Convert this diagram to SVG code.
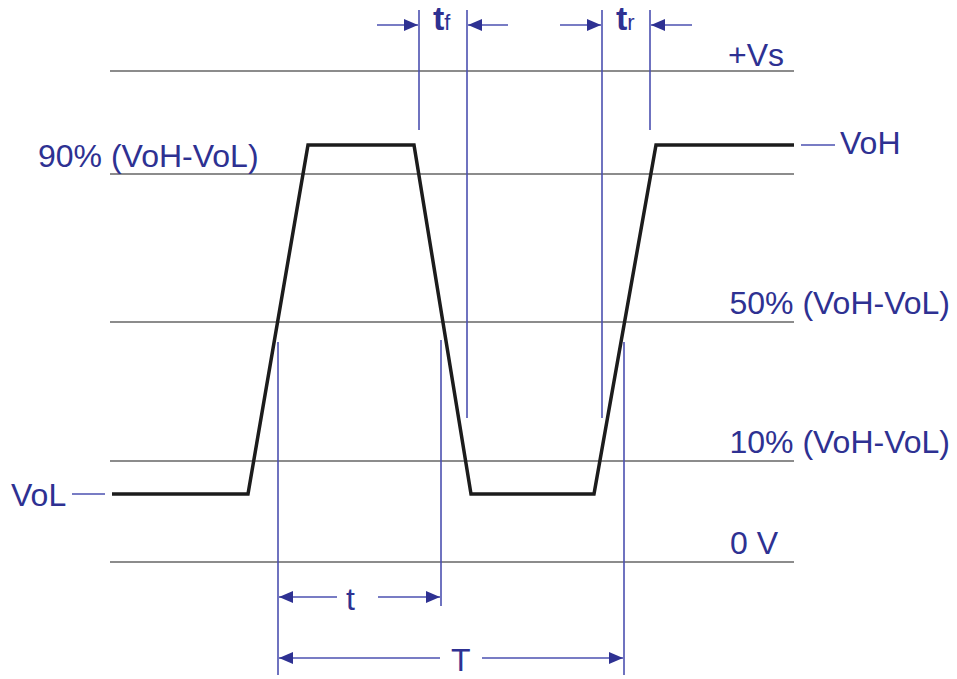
<svg xmlns="http://www.w3.org/2000/svg" width="957" height="679" viewBox="0 0 957 679">
<style>
.grid{stroke:#8c8c8c;stroke-width:2;fill:none}
.wave{stroke:#1c1c1c;stroke-width:3.5;fill:none;stroke-linejoin:miter}
.dim{stroke:#4b50b0;stroke-width:1.6;fill:none}
.lbl{font-family:"Liberation Sans",Arial,sans-serif;font-size:32px;fill:#2e3192}
.big{font-size:34px;font-weight:bold}
.sub{font-size:22px;font-weight:normal}
</style>
<defs>
<marker id="ah" viewBox="0 0 14 12" refX="14" refY="6" markerWidth="14" markerHeight="12" markerUnits="userSpaceOnUse" orient="auto">
<path d="M0,0 L14,6 L0,12 Z" fill="#2e3192"/>
</marker>
</defs>
<rect width="957" height="679" fill="#fff"/>
<g id="levels">
<line class="grid" x1="110" y1="71" x2="794" y2="71"/>
<line class="grid" x1="110" y1="174" x2="794" y2="174"/>
<line class="grid" x1="110" y1="322" x2="794" y2="322"/>
<line class="grid" x1="110" y1="461" x2="794" y2="461"/>
<line class="grid" x1="110" y1="562" x2="794" y2="562"/>
</g>
<g id="waveform">
<polyline class="wave" points="112,494 248,494 308,145 414,145 471,494 594,494 656,145 794,145"/>
</g>
<g id="connectors">
<line class="dim" x1="419" y1="10" x2="419" y2="130"/>
<line class="dim" x1="467" y1="10" x2="467" y2="418"/>
<line class="dim" x1="602" y1="10" x2="602" y2="418"/>
<line class="dim" x1="650" y1="10" x2="650" y2="130"/>
<line class="dim" x1="377" y1="25" x2="418" y2="25" marker-end="url(#ah)"/>
<line class="dim" x1="508" y1="25" x2="468" y2="25" marker-end="url(#ah)"/>
<line class="dim" x1="560" y1="25" x2="601" y2="25" marker-end="url(#ah)"/>
<line class="dim" x1="692" y1="25" x2="651" y2="25" marker-end="url(#ah)"/>
<line class="dim" x1="278" y1="342" x2="278" y2="675"/>
<line class="dim" x1="441" y1="340" x2="441" y2="606"/>
<line class="dim" x1="624" y1="342" x2="624" y2="675"/>
<line class="dim" x1="337" y1="597" x2="279" y2="597" marker-end="url(#ah)"/>
<line class="dim" x1="378" y1="597" x2="440" y2="597" marker-end="url(#ah)"/>
<line class="dim" x1="440" y1="658" x2="279" y2="658" marker-end="url(#ah)"/>
<line class="dim" x1="482" y1="658" x2="623" y2="658" marker-end="url(#ah)"/>
<line class="dim" x1="801" y1="145" x2="835" y2="145"/>
<line class="dim" x1="72" y1="494" x2="105" y2="494"/>
</g>
<g id="labels">
<text class="lbl" x="784" y="66" text-anchor="end">+Vs</text>
<text class="lbl" x="38" y="167">90% (VoH-VoL)</text>
<text class="lbl" x="840" y="154">VoH</text>
<text class="lbl" x="950" y="314" text-anchor="end">50% (VoH-VoL)</text>
<text class="lbl" x="950" y="453" text-anchor="end">10% (VoH-VoL)</text>
<text class="lbl" x="778" y="554" text-anchor="end">0 V</text>
<text class="lbl" x="11" y="506">VoL</text>
<text class="lbl big" x="433" y="30">t<tspan class="sub">f</tspan></text>
<text class="lbl big" x="616" y="30">t<tspan class="sub">r</tspan></text>
<text class="lbl" x="346" y="610">t</text>
<text class="lbl" x="451" y="671">T</text>
</g>
</svg>
